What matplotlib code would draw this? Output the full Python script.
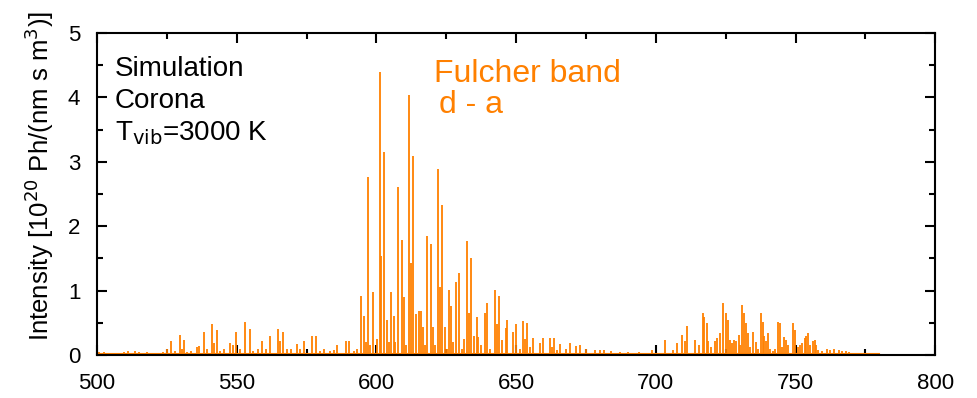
import matplotlib
matplotlib.use("Agg")
import matplotlib.pyplot as plt
from matplotlib.ticker import MultipleLocator

plt.rcParams['font.family'] = ['Liberation Sans', 'DejaVu Sans']

# line positions (nm) and intensities (1e20 Ph/(nm s m^3))
wl_left = [500.8, 502.5, 504.0, 507.0, 509.5, 511.2, 513.6, 515.2, 517.8, 520.0,
           523.7, 525.2, 526.4, 527.8, 529.6, 530.3, 531.2, 532.2, 533.7, 535.9,
           536.6, 538.2, 539.2, 541.3, 541.8, 542.8, 544.0, 545.3, 547.5, 548.5,
           549.8, 551.2, 553.0, 554.7, 555.8, 557.6, 559.2, 560.4, 562.0, 564.9,
           565.5, 566.7, 567.9, 569.4, 571.4, 572.7, 573.9, 576.9, 578.4, 579.8,
           581.4, 583.4, 584.7, 586.0, 589.0, 590.3, 592.0, 593.0, 594.3, 595.5,
           596.2]
int_left = [0.05, 0.05, 0.03, 0.03, 0.04, 0.06, 0.06, 0.05, 0.04, 0.03,
            0.05, 0.09, 0.22, 0.07, 0.31, 0.10, 0.23, 0.04, 0.07, 0.13,
            0.14, 0.35, 0.09, 0.48, 0.18, 0.39, 0.07, 0.09, 0.18, 0.16,
            0.35, 0.10, 0.51, 0.41, 0.07, 0.10, 0.21, 0.10, 0.30, 0.40,
            0.21, 0.36, 0.10, 0.10, 0.17, 0.10, 0.22, 0.30, 0.30, 0.07,
            0.10, 0.07, 0.08, 0.16, 0.21, 0.21, 0.07, 0.10, 0.92, 0.61,
            0.20]

wl_mid = [597.0, 597.8, 598.9, 600.2, 601.3, 601.7, 602.8, 603.7, 604.5, 605.3,
          606.2, 606.8, 607.6, 609.1, 609.7, 610.5, 611.8, 612.3, 613.1, 614.2,
          615.3, 615.8, 616.6, 617.3, 618.0, 619.6, 620.1, 621.0, 622.1, 622.6,
          623.5, 624.6, 625.3, 626.0, 626.6, 627.3, 628.3, 629.6, 630.5, 631.5,
          632.4, 633.1, 633.8, 635.0, 636.0, 636.5, 637.5, 638.7, 639.6, 640.8,
          642.6, 643.1, 643.8, 645.0, 646.3, 646.6, 648.8, 649.9, 651.5, 652.5,
          653.1, 653.8, 655.0, 656.1, 658.4, 659.5, 662.0, 662.7, 663.5, 664.7,
          665.8, 668.0, 669.1, 671.5, 672.8, 675.0, 678.2, 680.1, 681.3, 683.8,
          687.0, 690.0, 694.0, 698.6, 703.4, 706.1, 707.4, 709.5, 710.4, 711.3,
          714.0]
int_mid = [2.76, 0.15, 0.98, 0.25, 4.39, 1.53, 3.15, 0.54, 0.20, 0.98,
           0.60, 0.20, 2.61, 1.79, 0.90, 0.15, 4.04, 1.43, 3.09, 0.64,
           0.69, 0.69, 0.44, 0.15, 1.85, 1.73, 0.44, 0.15, 2.89, 1.05,
           2.33, 0.44, 0.10, 1.01, 0.76, 0.20, 1.14, 1.27, 0.10, 0.25,
           1.77, 0.66, 1.50, 0.30, 0.59, 0.28, 0.15, 0.65, 0.80, 0.10,
           1.01, 0.48, 0.91, 0.23, 0.42, 0.54, 0.35, 0.48, 0.10, 0.53,
           0.25, 0.50, 0.13, 0.27, 0.18, 0.27, 0.27, 0.13, 0.27, 0.08,
           0.17, 0.09, 0.19, 0.14, 0.15, 0.10, 0.08, 0.08, 0.08, 0.07,
           0.05, 0.05, 0.05, 0.08, 0.23, 0.08, 0.19, 0.31, 0.22, 0.45,
           0.23]

wl_right = [715.5, 716.8, 717.3, 718.3, 718.8, 719.6, 721.3, 721.9, 722.8, 724.2,
            725.1, 725.7, 726.6, 727.2, 727.9, 728.8, 729.6, 730.2, 731.0, 731.6,
            732.4, 733.0, 733.8, 734.7, 735.7, 736.5, 737.6, 738.2, 738.8, 739.5,
            740.2, 740.9, 741.8, 742.5, 743.7, 744.3, 745.1, 745.8, 746.6, 747.4,
            749.1, 749.9, 750.7, 751.7, 752.4, 753.4, 753.8, 754.4, 755.2, 756.2,
            756.8, 757.4, 758.2, 759.4, 761.3, 762.5, 763.7, 765.5, 766.5, 768.0,
            769.0, 771.0, 773.0, 775.0, 777.0, 779.0]
int_right = [0.16, 0.65, 0.59, 0.49, 0.21, 0.13, 0.21, 0.26, 0.34, 0.80,
             0.65, 0.54, 0.24, 0.19, 0.23, 0.21, 0.31, 0.16, 0.78, 0.65,
             0.49, 0.34, 0.13, 0.36, 0.20, 0.10, 0.65, 0.52, 0.30, 0.21,
             0.34, 0.10, 0.06, 0.10, 0.52, 0.49, 0.13, 0.28, 0.23, 0.16,
             0.50, 0.39, 0.13, 0.16, 0.19, 0.27, 0.30, 0.34, 0.16, 0.21,
             0.24, 0.16, 0.08, 0.06, 0.10, 0.08, 0.09, 0.08, 0.07, 0.06,
             0.04, 0.03, 0.03, 0.02, 0.02, 0.02]

# weak quasi-continuum under the lines
baseline_nm = [500, 780]
baseline_int = [0.015, 0.015]

wavelength = wl_left + wl_mid + wl_right
intensity = int_left + int_mid + int_right

orange = '#ff8000'

fig = plt.figure(figsize=(9.77, 3.98), dpi=100)
ax = fig.add_axes([0.0993, 0.108, 0.858, 0.809])

ax.plot(baseline_nm, baseline_int, color=orange, lw=1.5)
ax.vlines(wavelength, 0, intensity, color=orange, lw=1.3)

ax.set_xlim(500, 800)
ax.set_ylim(0, 5)
ax.xaxis.set_major_locator(MultipleLocator(50))
ax.xaxis.set_minor_locator(MultipleLocator(25))
ax.yaxis.set_major_locator(MultipleLocator(1))
ax.yaxis.set_minor_locator(MultipleLocator(0.5))
ax.tick_params(which='both', direction='in', top=True, right=True,
               width=1.5, labelsize=16)
ax.tick_params(axis='x', pad=13)
ax.tick_params(axis='y', pad=12)
ax.tick_params(which='major', length=7)
ax.tick_params(which='minor', length=4)
for s in ax.spines.values():
    s.set_linewidth(1.5)

ax.set_ylabel(r'Intensity [10$^{20}$ Ph/(nm s m$^{3}$)]', fontsize=18.5)
ax.yaxis.set_label_coords(-0.049, 0.555)

ax.text(0.021, 0.888, 'Simulation', transform=ax.transAxes, fontsize=20, va='center')
ax.text(0.021, 0.79, 'Corona', transform=ax.transAxes, fontsize=20, va='center')
ax.text(0.021, 0.69, r'T$_{\rm vib}$=3000 K', transform=ax.transAxes, fontsize=20,
        va='center')
ax.text(0.402, 0.872, 'Fulcher band', transform=ax.transAxes, fontsize=23,
        color=orange, va='center')
ax.text(0.408, 0.776, 'd - a', transform=ax.transAxes, fontsize=23,
        color=orange, va='center')

fig.savefig('out.png', dpi=100)
